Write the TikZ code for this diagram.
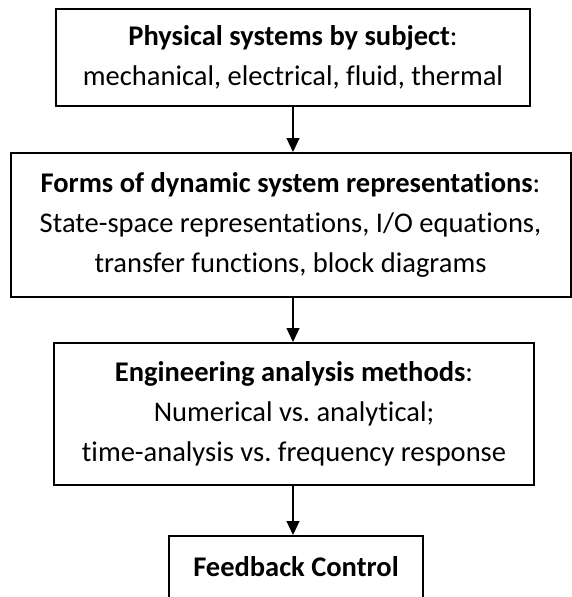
\documentclass[tikz,border=0pt]{standalone}
\usepackage{fontspec}
\setmainfont{Carlito}[Ligatures=NoCommon]
\usetikzlibrary{arrows.meta}
\frenchspacing
\begin{document}
\begin{tikzpicture}[x=1pt,y=-1pt,
  box/.style={draw=black, line width=2pt, inner sep=0pt, align=center,
    font=\fontsize{28.5}{40}\selectfont},
  conn/.style={draw=black, line width=1.1pt, -{Triangle[width=13pt,length=14pt]}}]
\useasboundingbox (0,0) rectangle (572,597);
\node[box, minimum width=474pt, minimum height=97pt] (phys) at (293,57)
  {\textbf{Physical systems by subject}:\\mechanical, electrical, fluid, thermal};
\node[box, minimum width=560pt, minimum height=144pt] (forms) at (290.5,225)
  {\textbf{Forms of dynamic system representations}:\\State-space representations, I/O equations,\\transfer functions, block diagrams};
\node[box, minimum width=480pt, minimum height=142pt] (eng) at (294,414)
  {\textbf{Engineering analysis methods}:\\Numerical vs.\ analytical;\\time-analysis vs.\ frequency response};
\node[box, minimum width=254pt, minimum height=62pt] (fb) at (296,567)
  {\textbf{Feedback Control}};
\coordinate (ax) at (293,0);
\draw[conn] (phys.south -| ax) -- (forms.north -| ax);
\draw[conn] (forms.south -| ax) -- (eng.north -| ax);
\draw[conn] (eng.south -| ax) -- (fb.north -| ax);
\end{tikzpicture}
\end{document}
